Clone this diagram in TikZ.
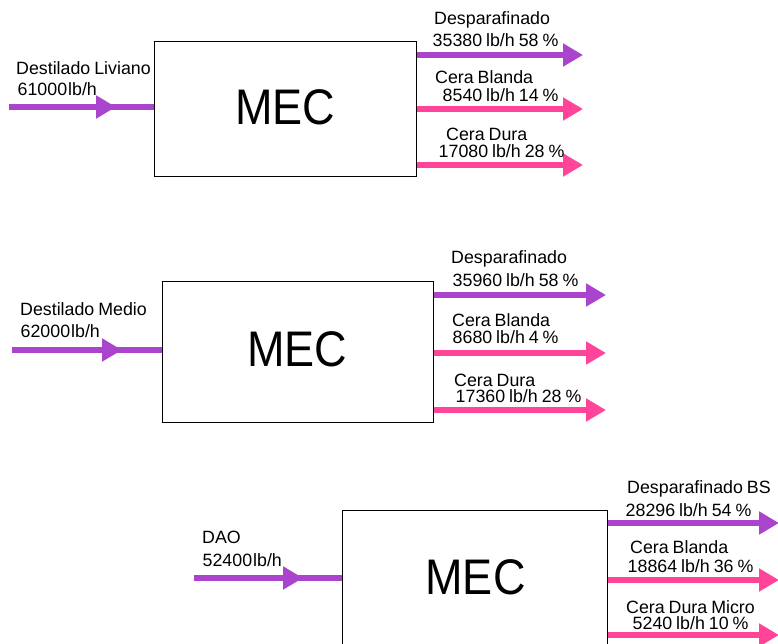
\documentclass[tikz,border=0pt]{standalone}
\usepackage{fontspec}
\setmainfont{Liberation Sans}[WordSpace=0.8]
\usetikzlibrary{arrows.meta}
\definecolor{flowpurple}{RGB}{170,68,204}
\definecolor{flowpink}{RGB}{255,68,153}
\tikzset{
  unitbox/.style={draw=black, line width=1pt, fill=white, inner sep=0pt},
  unitlabel/.style={inner sep=0pt, anchor=base, font=\fontsize{50}{56}\selectfont},
  flowtext/.style={inner sep=0pt, anchor=base west, font=\fontsize{17.8}{20}\selectfont},
  flowline/.style={line width=5.5pt},
  flowtip/.style={-{Triangle[length=20pt,width=22pt]}},
  purpleflow/.style={flowline, draw=flowpurple, color=flowpurple},
  pinkflow/.style={flowline, draw=flowpink, color=flowpink}
}
\begin{document}
\begin{tikzpicture}[x=1pt,y=-1pt]
\useasboundingbox (0,0) rectangle (778,643);
\clip (0,0) rectangle (778,643);

% ---------- Block 1 ----------
\node[unitbox, minimum width=262pt, minimum height=135pt] (box1) at (285,108.5) {};
\node[unitlabel] (mec1) at (285,124) {\scalebox{0.9}[1]{MEC}};
\coordinate (in1) at (9,107);
\coordinate (mid1) at (116,107);
\coordinate (out11) at (583,55);
\coordinate (out12) at (583,109);
\coordinate (out13) at (583,165);
\draw[purpleflow] (in1) -- (box1.west |- in1);
\draw[purpleflow, flowtip] (in1) -- (mid1);
\draw[purpleflow, flowtip] (box1.east |- out11) -- (out11);
\draw[pinkflow, flowtip] (box1.east |- out12) -- (out12);
\draw[pinkflow, flowtip] (box1.east |- out13) -- (out13);
\node[flowtext] (t1a) at (16,74) {Destilado Liviano};
\node[flowtext] (t1b) at (17.5,95.5) {61000\kern1pt lb/h};
\node[flowtext] (t1c) at (434,24.5) {Desparafinado};
\node[flowtext] (t1d) at (432.5,46) {35380 lb/h 58 \%};
\node[flowtext] (t1e) at (435,83) {Cera Blanda};
\node[flowtext] (t1f) at (442.5,101) {8540 lb/h 14 \%};
\node[flowtext] (t1g) at (446,140) {Cera Dura};
\node[flowtext] (t1h) at (438.5,157) {17080 lb/h 28 \%};

% ---------- Block 2 ----------
\node[unitbox, minimum width=271pt, minimum height=141pt] (box2) at (297.5,351.5) {};
\node[unitlabel] (mec2) at (297,366) {\scalebox{0.9}[1]{MEC}};
\coordinate (in2) at (12,350);
\coordinate (mid2) at (122,350);
\coordinate (out21) at (606,295);
\coordinate (out22) at (606,353);
\coordinate (out23) at (606,410);
\draw[purpleflow] (in2) -- (box2.west |- in2);
\draw[purpleflow, flowtip] (in2) -- (mid2);
\draw[purpleflow, flowtip] (box2.east |- out21) -- (out21);
\draw[pinkflow, flowtip] (box2.east |- out22) -- (out22);
\draw[pinkflow, flowtip] (box2.east |- out23) -- (out23);
\node[flowtext] (t2a) at (20,315) {Destilado Medio};
\node[flowtext] (t2b) at (20.5,337) {62000\kern1pt lb/h};
\node[flowtext] (t2c) at (451,263) {Desparafinado};
\node[flowtext] (t2d) at (452.5,286) {35960 lb/h 58 \%};
\node[flowtext] (t2e) at (452,326) {Cera Blanda};
\node[flowtext] (t2f) at (452.5,343) {8680 lb/h 4 \%};
\node[flowtext] (t2g) at (454,386) {Cera Dura};
\node[flowtext] (t2h) at (455.5,402) {17360 lb/h 28 \%};

% ---------- Block 3 ----------
\node[unitbox, minimum width=265pt, minimum height=190pt] (box3) at (474.5,605) {};
\node[unitlabel] (mec3) at (475.5,594) {\scalebox{0.9}[1]{MEC}};
\coordinate (in3) at (194,578);
\coordinate (mid3) at (303,578);
\coordinate (out31) at (779,523);
\coordinate (out32) at (779,580);
\coordinate (out33) at (779,635);
\draw[purpleflow] (in3) -- (box3.west |- in3);
\draw[purpleflow, flowtip] (in3) -- (mid3);
\draw[purpleflow, flowtip] (box3.east |- out31) -- (out31);
\draw[pinkflow, flowtip] (box3.east |- out32) -- (out32);
\draw[pinkflow, flowtip] (box3.east |- out33) -- (out33);
\node[flowtext] (t3a) at (202,543) {DAO};
\node[flowtext] (t3b) at (202.5,566) {52400\kern1pt lb/h};
\node[flowtext] (t3c) at (627,493) {Desparafinado BS};
\node[flowtext] (t3d) at (625.5,516) {28296 lb/h 54 \%};
\node[flowtext] (t3e) at (630,553) {Cera Blanda};
\node[flowtext] (t3f) at (627.5,572) {18864 lb/h 36 \%};
\node[flowtext] (t3g) at (626,613) {Cera Dura Micro};
\node[flowtext] (t3h) at (632.5,629) {5240 lb/h 10 \%};
\end{tikzpicture}
\end{document}
